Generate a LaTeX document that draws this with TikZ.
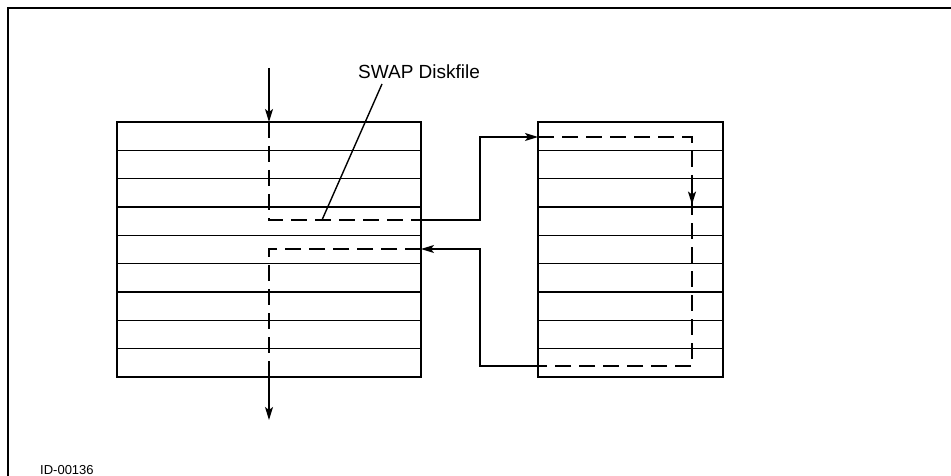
\documentclass[tikz,border=0pt]{standalone}
\usepackage{fontspec}
\setmainfont{Liberation Sans}
\usetikzlibrary{
  arrows.meta, % For arrow tips
  calc % For coordinate calculations
}

\begin{document}
\begin{tikzpicture}[
      x=1pt, y=-1pt, % pixel-like units, y pointing down
      >={Stealth[length=13pt,width=8pt,inset=3pt]}, % Default arrow tip
      frame/.style={line width=1.8pt}, % Style for the outer frame
      box/.style={line width=2.6pt}, % Style for the disk boxes
      row/.style={line width=1.4pt}, % Style for the block lines
      flow/.style={line width=1.4pt}, % Style for the solid connectors
      swapline/.style={line width=1.6pt, dash pattern=on 16pt off 8pt}, % Style for the swap path
      label/.style={font=\fontsize{19}{22}\selectfont, inner sep=0pt},
    ]

    \useasboundingbox (0,0) rectangle (951,476);

    % Sizes
    \def\rowh{28.333}

    % Outer frame
    \draw[frame] (8,490) -- (8,8) -- (970,8);

    % Corners of the boxes
    \coordinate (LT) at (117,122);
    \coordinate (LB) at (421,377);
    \coordinate (RT) at (538,122);
    \coordinate (RB) at (723,377);

    % Disk boxes
    \draw[box] (LT) rectangle (LB);
    \draw[box] (RT) rectangle (RB);
    \foreach \i in {1,...,8} {
      \draw[row] (117,{122+\i*\rowh}) -- (421,{122+\i*\rowh});
      \draw[row] (538,{122+\i*\rowh}) -- (723,{122+\i*\rowh});
    }

    % Points of the swap path
    \coordinate (in) at (269,68);
    \coordinate (a1) at (269,122);
    \coordinate (a2) at (269,220);
    \coordinate (a3) at (421,220);
    \coordinate (a4) at (480,220);
    \coordinate (a5) at (480,137);
    \coordinate (a6) at (538,137);
    \coordinate (b2) at (692,137);
    \coordinate (b3) at (692,366);
    \coordinate (b4) at (538,366);
    \coordinate (b5) at (480,366);
    \coordinate (b6) at (480,249);
    \coordinate (b7) at (421,249);
    \coordinate (c1) at (269,249);
    \coordinate (c2) at (269,377);
    \coordinate (out) at (269,420);

    % Swap out
    \draw[flow, ->] (in) -- (a1);
    \draw[swapline] (a1) -- (a2) -- (a3);
    \draw[flow, ->] (a3) -- (a4) -- (a5) -- (a6);
    \draw[swapline] (a6) -- (b2) -- (b3) -- (b4);
    \draw[flow, ->] ($(b2)!0.17!(b3)$) -- ($(b2)!0.295!(b3)$);

    % Swap in
    \draw[flow, ->] (b4) -- (b5) -- (b6) -- (b7);
    \draw[swapline] (b7) -- (c1) -- (c2);
    \draw[flow, ->] (c2) -- (out);

    % Labels
    \node[label, anchor=south west] (swap) at (358,79) {SWAP Diskfile};
    \coordinate (lead) at (322,220);
    \draw[flow] ($(swap.south west)+(24,5)$) -- (lead);

    \node[font=\fontsize{13}{15}\selectfont, inner sep=0pt, anchor=south west] (id) at (40,475) {ID-00136};

  \end{tikzpicture}
\end{document}
